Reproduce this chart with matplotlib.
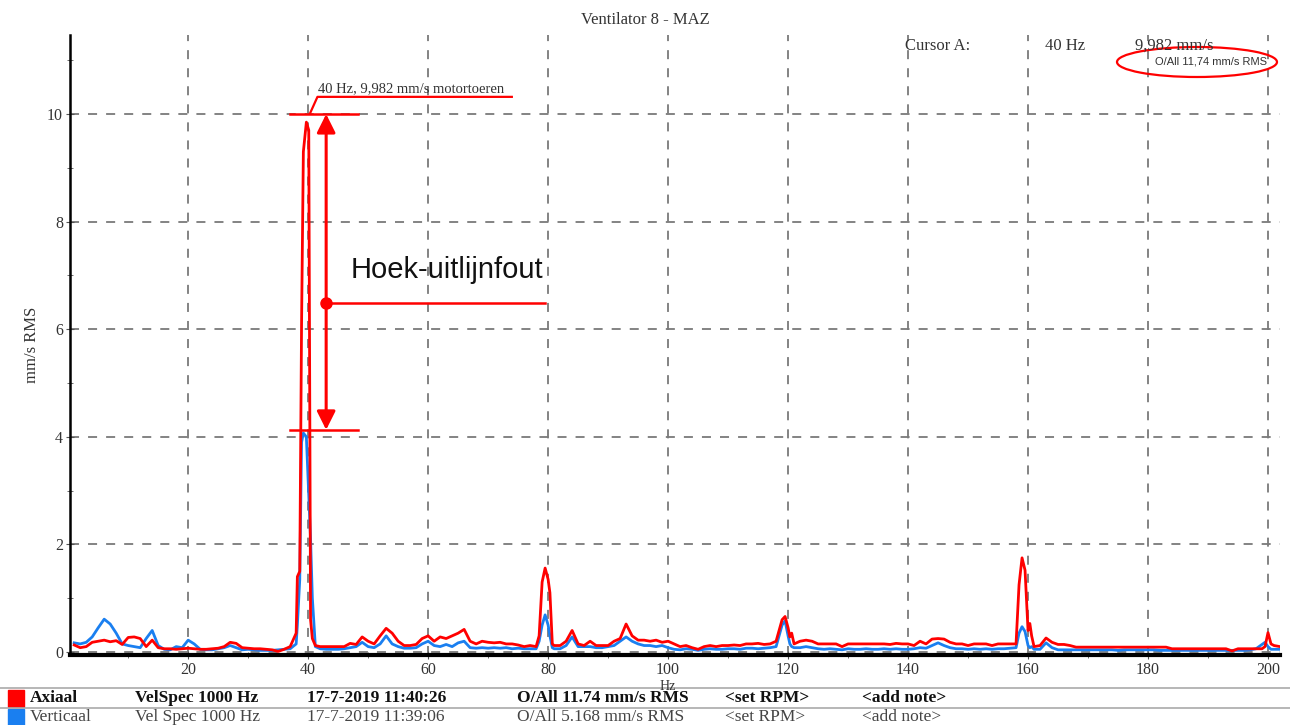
import matplotlib.pyplot as plt
from matplotlib.patches import Ellipse, Rectangle
from matplotlib.lines import Line2D
import numpy as np

# frequency grid (Hz), shared by both measurements
freq = [1, 2, 3, 4, 5, 6, 7, 8, 9, 10, 11, 12, 13, 14, 15, 16, 17, 18, 19, 20,
        21, 22, 23, 24, 25, 26, 27, 28, 29, 30, 31, 32, 33, 34, 35, 36, 37,
        38, 38.2, 38.6, 38.9, 39.2, 39.7, 40.1, 40.4, 40.7, 41.2, 42,
        43, 44, 45, 46, 47, 48, 49, 50, 51, 52, 53, 54, 55, 56, 57, 58, 59, 60,
        61, 62, 63, 64, 65, 66, 67, 68, 69, 70, 71, 72, 73, 74, 75, 76, 77,
        78, 78.5, 79, 79.5, 80, 80.3, 80.7, 81,
        82, 83, 84, 85, 86, 87, 88, 89, 90, 91, 92, 93, 94, 95, 96, 97, 98, 99, 100,
        101, 102, 103, 104, 105, 106, 107, 108, 109, 110, 111, 112, 113, 114, 115, 116, 117,
        118, 118.5, 119, 119.5, 120, 120.3, 120.6, 121,
        122, 123, 124, 125, 126, 127, 128, 129, 130, 131, 132, 133, 134, 135, 136, 137, 138, 139, 140,
        141, 142, 143, 144, 145, 146, 147, 148, 149, 150, 151, 152, 153, 154, 155, 156, 157,
        158, 158.5, 159, 159.5, 160, 160.3, 160.6, 161,
        162, 163, 164, 165, 166, 167, 168, 169, 170, 171, 172, 173, 174, 175, 176, 177, 178, 179, 180,
        181, 182, 183, 184, 185, 186, 187, 188, 189, 190, 191, 192, 193, 194, 195, 196, 197, 198,
        199, 199.5, 200, 200.5, 201, 202]

# Axiaal (red), mm/s RMS
axiaal = [0.13, 0.08, 0.10, 0.18, 0.20, 0.22, 0.19, 0.21, 0.14, 0.27, 0.28, 0.25, 0.10, 0.22, 0.08, 0.06, 0.06, 0.05, 0.06, 0.07,
          0.06, 0.05, 0.05, 0.06, 0.07, 0.10, 0.18, 0.16, 0.08, 0.07, 0.06, 0.06, 0.05, 0.04, 0.01, 0.05, 0.10,
          0.35, 1.40, 1.50, 6.10, 9.30, 9.85, 9.70, 0.60, 0.25, 0.12, 0.10,
          0.10, 0.10, 0.10, 0.10, 0.16, 0.14, 0.28, 0.20, 0.15, 0.30, 0.44, 0.35, 0.20, 0.12, 0.12, 0.14, 0.25, 0.30,
          0.20, 0.28, 0.25, 0.30, 0.35, 0.42, 0.20, 0.15, 0.20, 0.18, 0.17, 0.18, 0.15, 0.15, 0.13, 0.10, 0.12,
          0.10, 0.30, 1.30, 1.56, 1.35, 1.10, 0.15, 0.12,
          0.12, 0.20, 0.40, 0.15, 0.12, 0.20, 0.12, 0.12, 0.12, 0.20, 0.25, 0.52, 0.30, 0.22, 0.22, 0.20, 0.22, 0.18, 0.20,
          0.15, 0.10, 0.12, 0.08, 0.05, 0.10, 0.12, 0.10, 0.12, 0.12, 0.13, 0.12, 0.15, 0.15, 0.16, 0.14, 0.15,
          0.20, 0.40, 0.60, 0.66, 0.45, 0.28, 0.35, 0.15,
          0.20, 0.22, 0.20, 0.15, 0.15, 0.15, 0.15, 0.10, 0.15, 0.15, 0.15, 0.15, 0.15, 0.15, 0.15, 0.14, 0.16, 0.15, 0.15,
          0.12, 0.20, 0.15, 0.24, 0.25, 0.24, 0.18, 0.15, 0.15, 0.12, 0.15, 0.15, 0.15, 0.12, 0.15, 0.15, 0.15,
          0.15, 1.25, 1.75, 1.52, 0.40, 0.53, 0.30, 0.10,
          0.12, 0.26, 0.18, 0.14, 0.14, 0.12, 0.09, 0.09, 0.09, 0.09, 0.09, 0.09, 0.09, 0.09, 0.09, 0.09, 0.09, 0.09, 0.09,
          0.09, 0.09, 0.09, 0.06, 0.06, 0.06, 0.06, 0.06, 0.06, 0.06, 0.06, 0.06, 0.06, 0.02, 0.06, 0.06, 0.06, 0.06,
          0.06, 0.10, 0.36, 0.15, 0.12, 0.10]

# Verticaal (blue), mm/s RMS
verticaal = [0.17, 0.15, 0.18, 0.28, 0.45, 0.61, 0.52, 0.35, 0.15, 0.12, 0.10, 0.08, 0.25, 0.40, 0.12, 0.05, 0.04, 0.10, 0.08, 0.22,
             0.15, 0.05, 0.04, 0.04, 0.06, 0.08, 0.12, 0.08, 0.04, 0.05, 0.04, 0.03, 0.03, 0.03, 0.04, 0.05, 0.06,
             0.15, 0.50, 1.35, 3.90, 4.07, 4.00, 2.90, 2.10, 1.00, 0.10, 0.06,
             0.05, 0.05, 0.05, 0.06, 0.08, 0.10, 0.18, 0.10, 0.08, 0.15, 0.30, 0.15, 0.10, 0.07, 0.07, 0.08, 0.15, 0.20,
             0.12, 0.10, 0.14, 0.10, 0.17, 0.20, 0.08, 0.07, 0.08, 0.07, 0.08, 0.07, 0.08, 0.06, 0.07, 0.06, 0.06,
             0.06, 0.20, 0.50, 0.69, 0.50, 0.30, 0.08, 0.06,
             0.06, 0.12, 0.28, 0.10, 0.10, 0.10, 0.08, 0.08, 0.10, 0.12, 0.20, 0.28, 0.20, 0.15, 0.12, 0.12, 0.10, 0.12, 0.08,
             0.05, 0.04, 0.06, 0.05, 0.03, 0.05, 0.06, 0.05, 0.05, 0.06, 0.06, 0.05, 0.07, 0.07, 0.06, 0.07, 0.08,
             0.10, 0.30, 0.50, 0.58, 0.30, 0.15, 0.10, 0.08,
             0.08, 0.10, 0.08, 0.06, 0.05, 0.06, 0.05, 0.04, 0.06, 0.05, 0.05, 0.06, 0.05, 0.05, 0.06, 0.05, 0.06, 0.05, 0.05,
             0.06, 0.08, 0.07, 0.12, 0.17, 0.12, 0.08, 0.06, 0.06, 0.05, 0.06, 0.05, 0.06, 0.05, 0.06, 0.06, 0.07,
             0.08, 0.35, 0.47, 0.38, 0.12, 0.08, 0.10, 0.05,
             0.05, 0.17, 0.08, 0.04, 0.04, 0.04, 0.04, 0.04, 0.04, 0.04, 0.04, 0.04, 0.04, 0.03, 0.04, 0.04, 0.04, 0.04, 0.04,
             0.04, 0.03, 0.03, 0.03, 0.03, 0.03, 0.03, 0.03, 0.03, 0.03, 0.03, 0.03, 0.03, 0.03, 0.03, 0.03, 0.04, 0.06,
             0.14, 0.18, 0.10, 0.05, 0.05, 0.05]

# cursor / markers
cursor_f = 40
cursor_v = 9.982
low_v = 4.13
mid_v = 6.49

legend_rows = [
    ["Axiaal", "VelSpec 1000 Hz", "17-7-2019 11:40:26", "O/All 11.74 mm/s RMS", "<set RPM>", "<add note>"],
    ["Verticaal", "Vel Spec 1000 Hz", "17-7-2019 11:39:06", "O/All 5.168 mm/s RMS", "<set RPM>", "<add note>"],
]
legend_cols_px = [30, 135, 307, 517, 725, 862]
legend_colors = ["#ff0000", "#1a7ff0"]

serif = "Liberation Serif"
W, H = 1290, 725

fig = plt.figure(figsize=(12.9, 7.25), dpi=100)
ax = fig.add_axes([70 / W, 1 - 655 / H, (1280 - 70) / W, (655 - 35) / H])

ax.plot(freq, verticaal, color=legend_colors[1], lw=2.0, zorder=3)
ax.plot(freq, axiaal, color=legend_colors[0], lw=2.0, zorder=4)

ax.set_xlim(0.3, 202)
ax.set_ylim(-0.056, 11.47)
ax.set_xticks([20, 40, 60, 80, 100, 120, 140, 160, 180, 200])
ax.set_xticks([10, 30, 50, 70, 90, 110, 130, 150, 170, 190], minor=True)
ax.set_yticks([0, 2, 4, 6, 8, 10])
ax.set_yticks([1, 3, 5, 7, 9, 11], minor=True)
ax.grid(True, which="major", color="#7a7a7a", linestyle=(0, (5, 5)), lw=1.3, zorder=1)
ax.tick_params(which="both", direction="inout", color="#555555", labelsize=11.5, pad=2)
ax.tick_params(which="major", length=6)
ax.tick_params(which="minor", length=4)
for lab in ax.get_xticklabels() + ax.get_yticklabels():
    lab.set_fontfamily(serif)
    lab.set_color("#333333")
ax.spines["top"].set_visible(False)
ax.spines["right"].set_visible(False)
ax.spines["left"].set_linewidth(1.8)
ax.spines["bottom"].set_linewidth(3)
ax.set_ylabel("mm/s RMS", fontfamily=serif, fontsize=12, color="#333333", labelpad=5)
fig.text(668 / W, 1 - 686 / H, "Hz", fontfamily=serif, fontsize=10,
         color="#333333", ha="center", va="center")

# red markings
ax.plot([37, 48.3], [10, 10], color="red", lw=1.8, zorder=5)
ax.plot([37, 48.3], [low_v, low_v], color="red", lw=1.8, zorder=5)
ax.annotate("", xy=(43, 10), xytext=(43, low_v),
            arrowprops=dict(arrowstyle="<|-|>", color="red", lw=2.2,
                            mutation_scale=28, shrinkA=0, shrinkB=0), zorder=5)
ax.plot([43], [mid_v], "o", color="red", ms=8, zorder=6)
ax.plot([43, 79.5], [mid_v, mid_v], color="red", lw=1.8, zorder=5)
ax.text(47, 7.1, "Hoek-uitlijnfout", fontfamily="Liberation Sans", fontsize=21,
        color="#111111", va="center", ha="left", zorder=6)

# cursor label
ax.plot([40.3, 41.55, 73.95], [10.01, 10.32, 10.32], color="red", lw=1.6, zorder=5)
ax.text(41.7, 10.36, "40 Hz, 9,982 mm/s motortoeren", fontfamily=serif, fontsize=10.5,
        color="#333333", va="bottom", ha="left")

# titles and cursor readout
fig.text(645 / W, 1 - 20 / H, "Ventilator 8 - MAZ", fontfamily=serif, fontsize=12,
         color="#333333", ha="center", va="center")
fig.text(905 / W, 1 - 46 / H, "Cursor A:", fontfamily=serif, fontsize=12, color="#333333", va="center")
fig.text(1045 / W, 1 - 46 / H, "40 Hz", fontfamily=serif, fontsize=12, color="#333333", va="center")
fig.text(1135 / W, 1 - 46 / H, "9,982 mm/s", fontfamily=serif, fontsize=12, color="#333333", va="center")
fig.text(1155 / W, 1 - 62 / H, "O/All 11,74 mm/s RMS", fontfamily="Liberation Sans", fontsize=8,
         color="#333333", va="center")
fig.add_artist(Ellipse((1197 / W, 1 - 62 / H), 160 / W, 30 / H, transform=fig.transFigure,
                       fill=False, edgecolor="red", lw=1.6))

# bottom legend table
for y in [688, 708]:
    fig.add_artist(Line2D([0, 1], [1 - y / H, 1 - y / H], transform=fig.transFigure,
                          color="#aaaaaa", lw=1.2))
row_y = [698, 717]
for i, row in enumerate(legend_rows):
    fig.add_artist(Rectangle((8 / W, 1 - (row_y[i] + 9) / H), 16 / W, 17 / H,
                             transform=fig.transFigure, color=legend_colors[i]))
    for j, txt in enumerate(row):
        fig.text(legend_cols_px[j] / W, 1 - row_y[i] / H, txt, fontfamily=serif, fontsize=12.5,
                 fontweight="bold" if i == 0 else "normal",
                 color="#111111" if i == 0 else "#444444", va="center")

fig.savefig("out.png", dpi=100)
